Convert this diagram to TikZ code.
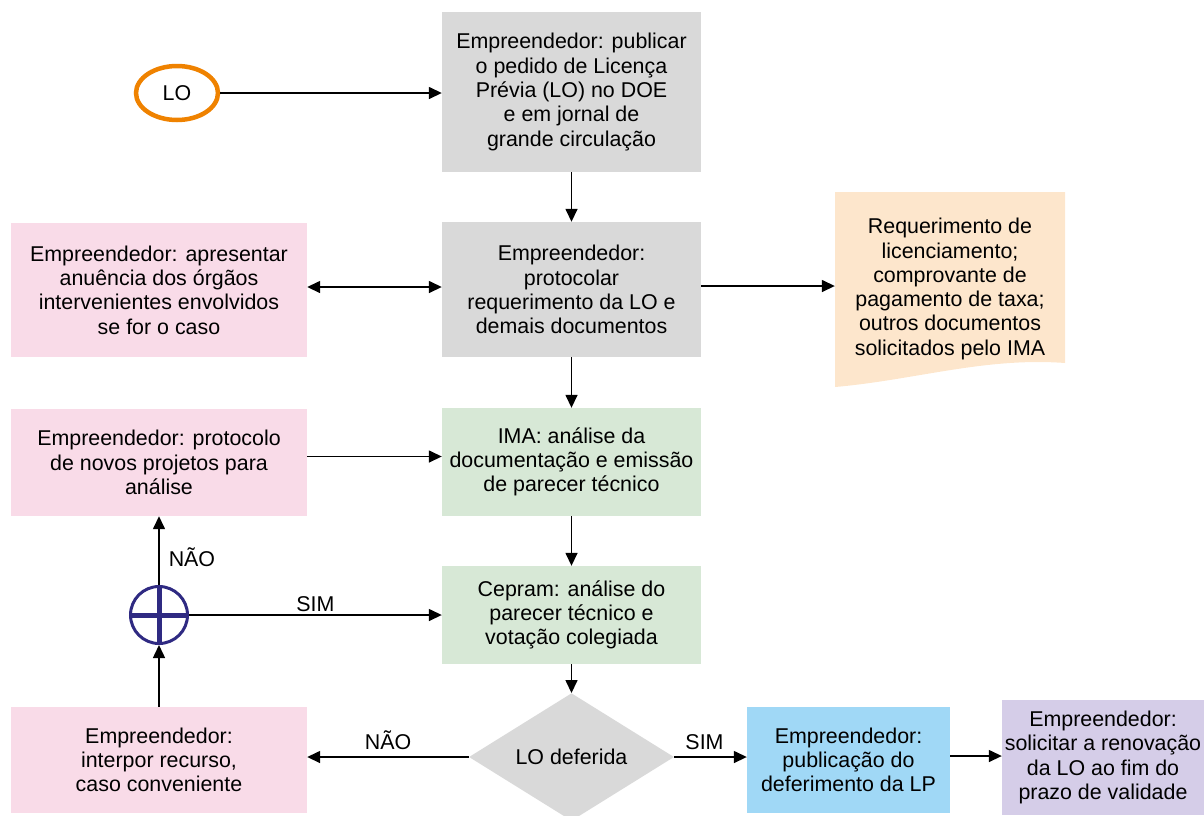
\documentclass[tikz,border=0pt]{standalone}
\usepackage{fontspec}
\setmainfont{Liberation Sans}
\usetikzlibrary{shapes.geometric,arrows.meta}
\definecolor{cinza}{HTML}{D9D9D9}
\definecolor{rosa}{HTML}{F9DBE8}
\definecolor{verde}{HTML}{D7E8D6}
\definecolor{pessego}{HTML}{FDE6CC}
\definecolor{azul}{HTML}{A0D8F6}
\definecolor{lilas}{HTML}{D5CDE8}
\definecolor{laranja}{HTML}{EF8200}
\definecolor{anil}{HTML}{2F2A82}

\begin{document}
\begin{tikzpicture}[x=1pt,y=-1pt,>={Triangle[length=13pt,width=12pt]},
	font=\fontsize{21.4}{24.3}\selectfont,
	bloco/.style={rectangle,inner sep=0pt,align=center},
	cinzabox/.style={bloco,fill=cinza,minimum width=259},
	verdebox/.style={bloco,fill=verde,minimum width=259},
	rosabox/.style={bloco,fill=rosa,minimum width=296},
	seta/.style={->,line width=1.5},
	rotulo/.style={inner sep=1pt}]
	\useasboundingbox (0,0) rectangle (1204,815);% keep the page size
	
	% coluna central
	\node[ellipse,draw=laranja,line width=4.5,minimum width=82,minimum height=54] (lo) at (177,93) {LO};
	\node[cinzabox,minimum height=160] (publicar) at (571.5,92) {Empreendedor: publicar\\o pedido de Licença\\Prévia (LO) no DOE\\e em jornal de\\grande circulação};
	\node[cinzabox,minimum height=135] (protocolar) at (571.5,289.5) {Empreendedor:\\protocolar\\requerimento da LO e\\demais documentos};
	\node[verdebox,minimum height=108] (analise) at (571.5,462) {IMA: análise da\\documentação e emissão\\de parecer técnico};
	\node[verdebox,minimum height=98] (cepram) at (571.5,615) {Cepram: análise do\\parecer técnico e\\votação colegiada};
	\node[diamond,fill=cinza,inner sep=0pt,minimum width=205,minimum height=120] (deferida) at (571.5,757) {LO deferida};
	
	% coluna da esquerda
	\node[rosabox,minimum height=134] (anuencia) at (159,290) {Empreendedor: apresentar\\anuência dos órgãos\\intervenientes envolvidos\\se for o caso};
	\node[rosabox,minimum height=107] (novos) at (159,462.5) {Empreendedor: protocolo\\de novos projetos para\\análise};
	\node[circle,draw=anil,line width=3,minimum size=57] (juncao) at (159,615) {};
	\draw[anil,line width=5] (juncao.north) -- (juncao.south) (juncao.west) -- (juncao.east);
	\node[rosabox,minimum height=106] (recurso) at (159,760) {Empreendedor:\\interpor recurso,\\caso conveniente};
	
	% documentos
	\fill[pessego] (835,192) -- (1065,192) -- (1065,363) .. controls (985,357) and (915,380) .. (835,387) -- cycle;
	\node[bloco,minimum width=230] (documentos) at (950,289) {Requerimento de\\licenciamento;\\comprovante de\\pagamento de taxa;\\outros documentos\\solicitados pelo IMA};
	
	% linha de baixo
	\node[bloco,fill=azul,minimum width=203,minimum height=106] (publicacao) at (848.5,760) {Empreendedor:\\publicação do\\deferimento da LP};
	\node[bloco,fill=lilas,minimum width=202,minimum height=115] (renovacao) at (1103,757.5) {Empreendedor:\\solicitar a renovação\\da LO ao fim do\\prazo de validade};
	
	% setas
	\draw[seta] (lo.east) -- (lo.east -| publicar.west);
	\draw[seta] (publicar) -- (protocolar);
	\draw[seta,<->] ([yshift=3pt]anuencia.east) -- ([yshift=3pt]anuencia.east -| protocolar.west);
	\draw[seta] ([yshift=3.5pt]protocolar.east) -- ([yshift=3.5pt]protocolar.east -| documentos.west);
	\draw[seta] (protocolar) -- (analise);
	\draw[seta] ([yshift=6pt]novos.east) -- ([yshift=6pt]novos.east -| analise.west);
	\draw[seta] (analise) -- (cepram);
	\draw[seta] (juncao) -- node[rotulo,above=2pt] {SIM} (cepram);
	\draw[seta] (juncao) -- node[rotulo,pos=0.4,right=8pt] {NÃO} (novos);
	\draw[seta] (recurso) -- (juncao);
	\draw[seta] (cepram) -- (deferida);
	\draw[seta] (deferida.west) -- node[rotulo,above=6pt] {NÃO} (deferida.west -| recurso.east);
	\draw[seta] (deferida.east) -- node[rotulo,above=6pt,xshift=-6pt] {SIM} (deferida.east -| publicacao.west);
	\draw[seta] ([yshift=4pt]publicacao.east) -- ([yshift=4pt]publicacao.east -| renovacao.west);
\end{tikzpicture}
\end{document}
